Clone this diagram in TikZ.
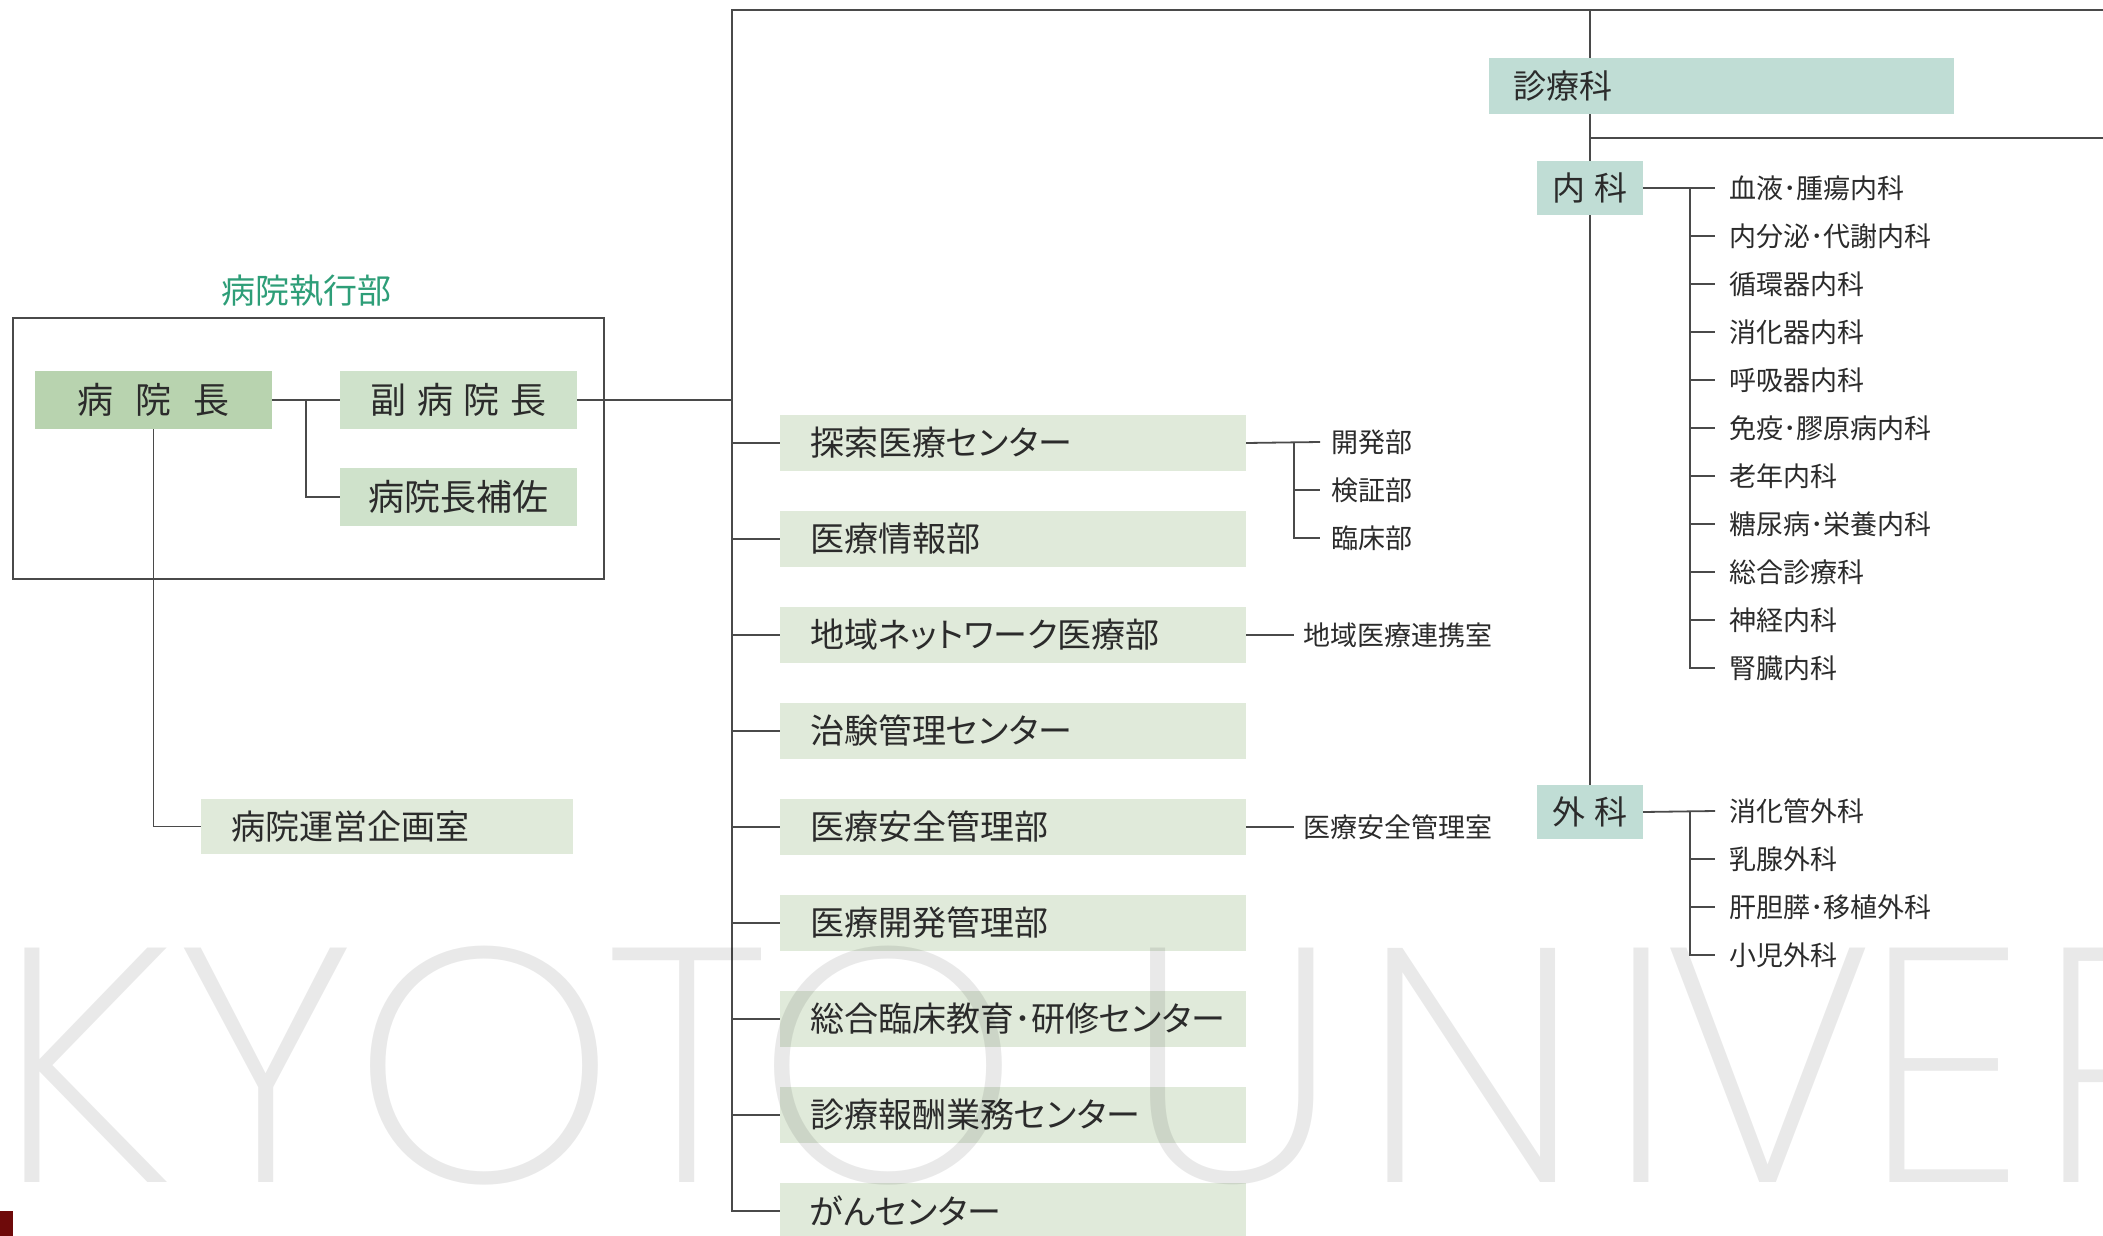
\documentclass[tikz,border=0pt]{standalone}
\usepackage{fontspec}
\setmainfont{Noto Sans CJK JP}
\newfontfamily\pfont{Noto Sans CJK JP}[RawFeature=+palt]
\IfFontExistsTF{Poppins ExtraLight}{\newfontfamily\wmfont{Poppins ExtraLight}}{\IfFontExistsTF{Poppins Light}{\newfontfamily\wmfont{Poppins Light}}{\newfontfamily\wmfont{Poppins}}}
\usetikzlibrary{backgrounds}
\definecolor{txt}{HTML}{2B2B2B}
\definecolor{lnc}{HTML}{4A4A4A}
\definecolor{titlec}{HTML}{2E9E78}
\definecolor{gdark}{HTML}{B8D3AF}
\definecolor{gmid}{HTML}{CFE2CB}
\definecolor{glight}{HTML}{E0EADA}
\definecolor{tealc}{HTML}{C0DDD5}
\definecolor{darkred}{HTML}{6E0A0A}
\begin{document}
\begin{tikzpicture}[x=0.5pt,y=-0.5pt,
  every node/.style={inner sep=0pt, outer sep=0pt, text=txt},
  ln/.style={draw=lnc, line width=0.9pt},
  leftbox/.style={minimum width=118.5pt, minimum height=29pt, font=\fontsize{18}{18}\selectfont},
  cbox/.style={fill=glight, minimum width=233pt, minimum height=28pt, text width=203pt, align=left, inner xsep=15pt, font=\pfont\fontsize{17}{17}\selectfont},
  tbox/.style={fill=tealc, font=\fontsize{16.5}{16.5}\selectfont},
  item/.style={anchor=west, font=\fontsize{13.5}{13.5}\selectfont},
  wm/.style={anchor=base, text=black, text opacity=0.085, font=\wmfont\fontsize{167}{167}\selectfont}
]
\useasboundingbox (0,0) rectangle (2103,1236);

% executive group
\node[font=\fontsize{17}{17}\selectfont, text=titlec] (title) at (306,291) {病院執行部};
\node[draw=lnc, line width=0.9pt, minimum width=295.5pt, minimum height=130.5pt] (exec) at (308.5,448.5) {};
\node[leftbox, fill=gdark] (dir) at (153.5,400) {病\hspace{0.6em}院\hspace{0.6em}長};
\node[leftbox, fill=gmid] (vdir) at (458.5,400) {副\hspace{0.3em}病\hspace{0.3em}院\hspace{0.3em}長};
\node[leftbox, fill=gmid] (asst) at (458.5,497) {病院長補佐};
\node[cbox, minimum width=186pt, minimum height=27.5pt, text width=156pt] (plan) at (387,826.5) {病院運営企画室};

% centre column
\node[cbox] (c1) at (1013,443) {探索医療センター};
\node[cbox] (c2) at (1013,539) {医療情報部};
\node[cbox] (c3) at (1013,635) {地域ネットワーク医療部};
\node[cbox] (c4) at (1013,731) {治験管理センター};
\node[cbox] (c5) at (1013,827) {医療安全管理部};
\node[cbox] (c6) at (1013,923) {医療開発管理部};
\node[cbox] (c7) at (1013,1019) {総合臨床教育･研修センター};
\node[cbox] (c8) at (1013,1115) {診療報酬業務センター};
\node[cbox] (c9) at (1013,1211) {がんセンター};

\node[item, inner xsep=5.5pt] (s1) at (1320,442) {開発部};
\node[item, inner xsep=5.5pt] (s2) at (1320,490) {検証部};
\node[item, inner xsep=5.5pt] (s3) at (1320,538) {臨床部};
\node[item, inner xsep=4.8pt] (r3) at (1294,635) {地域医療連携室};
\node[item, inner xsep=4.8pt] (r5) at (1294,827) {医療安全管理室};

% clinical departments
\node[tbox, minimum width=232.5pt, minimum height=28pt, text width=208.5pt, align=left, inner xsep=12pt] (shin) at (1721.5,86) {診療科};
\node[tbox, minimum width=53pt, minimum height=27pt] (nai) at (1590,188) {内\hspace{0.3em}科};
\node[tbox, minimum width=53pt, minimum height=27pt] (ge) at (1590,812) {外\hspace{0.3em}科};

\node[item, inner xsep=7pt] (n1) at (1715,188) {血液･腫瘍内科};
\node[item, inner xsep=7pt] (n2) at (1715,236) {内分泌･代謝内科};
\node[item, inner xsep=7pt] (n3) at (1715,284) {循環器内科};
\node[item, inner xsep=7pt] (n4) at (1715,332) {消化器内科};
\node[item, inner xsep=7pt] (n5) at (1715,380) {呼吸器内科};
\node[item, inner xsep=7pt] (n6) at (1715,428) {免疫･膠原病内科};
\node[item, inner xsep=7pt] (n7) at (1715,476) {老年内科};
\node[item, inner xsep=7pt] (n8) at (1715,524) {糖尿病･栄養内科};
\node[item, inner xsep=7pt] (n9) at (1715,572) {総合診療科};
\node[item, inner xsep=7pt] (n10) at (1715,620) {神経内科};
\node[item, inner xsep=7pt] (n11) at (1715,668) {腎臓内科};

\node[item, inner xsep=7pt] (g1) at (1715,811) {消化管外科};
\node[item, inner xsep=7pt] (g2) at (1715,859) {乳腺外科};
\node[item, inner xsep=7pt] (g3) at (1715,907) {肝胆膵･移植外科};
\node[item, inner xsep=7pt] (g4) at (1715,955) {小児外科};

\begin{pgfonlayer}{background}
\coordinate (mtop) at (732,10);
\coordinate (rtop) at (2103,10);
\draw[ln] (rtop) -- (mtop) -- (mtop |- c9.west) -- (c9.west);
\foreach \c in {c1,c2,c3,c4,c5,c6,c7,c8} \draw[ln] (mtop |- \c.west) -- (\c.west);
\draw[ln] (vdir.east) -- (vdir.east -| mtop);
\draw[ln] (dir.east) -- (vdir.west);
\draw[ln] (dir.east) ++(34,0) coordinate (b0) |- (asst.west);
\draw[ln] (dir.south) |- (plan.west);
\draw[ln] (c1.east) -- (s1.west);
\draw[ln] (c1.east) ++(48,0) coordinate (k1) |- (s3.west);
\draw[ln] (k1 |- s2.west) -- (s2.west);
\draw[ln] (c3.east) -- (r3.west);
\draw[ln] (c5.east) -- (r5.west);
\coordinate (dtop) at (1590,10);
\coordinate (jr) at (2103,138);
\draw[ln] (dtop) -- (ge.north);
\draw[ln] (dtop |- jr) -- (jr);
\draw[ln] (nai.east) -- (n1.west);
\draw[ln] (nai.east) ++(47,0) coordinate (k2) |- (n11.west);
\foreach \i in {2,...,10} \draw[ln] (k2 |- n\i.west) -- (n\i.west);
\draw[ln] (ge.east) -- (g1.west);
\draw[ln] (ge.east) ++(47,0) coordinate (k3) |- (g4.west);
\foreach \i in {2,3} \draw[ln] (k3 |- g\i.west) -- (g\i.west);
\end{pgfonlayer}

% watermark
\node[wm] (wK) at (86,1182) {K};
\node[wm] (wY) at (266,1182) {Y};
\node[wm] (wO1) at (484.5,1182) {O};
\node[wm] (wT) at (687,1182) {T};
\node[wm] (wO2) at (888,1182) {O};
\node[wm] (wU) at (1232,1182) {U};
\node[wm] (wN) at (1472,1182) {N};
\node[wm] (wI) at (1642,1182) {I};
\node[wm] (wV) at (1768,1182) {V};
\node[wm] (wE) at (1944,1182) {E};
\node[wm] (wR) at (2130,1182) {R};

\fill[darkred] (0,1211) rectangle (13,1236);
\end{tikzpicture}
\end{document}
